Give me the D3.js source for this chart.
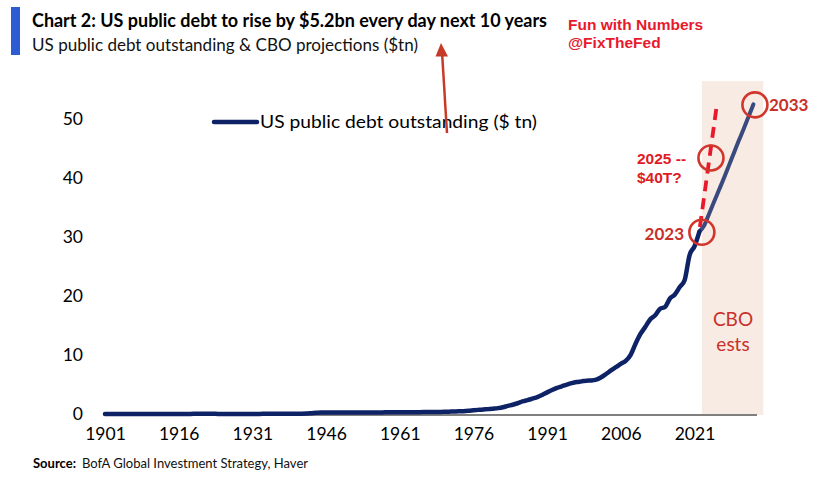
<!DOCTYPE html>
<html><head><meta charset="utf-8">
<script src="https://cdn.jsdelivr.net/npm/d3@7"></script>
<style>
html,body{margin:0;padding:0;background:#fff;}
svg{display:block;}
</style></head>
<body>
<svg id="c" width="815" height="483"></svg>
<script>
// ---- data ----
const firstYear = 1901;
const actualDebt = [ // $tn, 1901..2022
0.001,0.001,0.001,0.001,0.001,0.001,0.001,0.001,0.001,0.001,
0.001,0.001,0.001,0.001,0.001,0.001,0.003,0.012,0.025,0.024,
0.024,0.023,0.022,0.021,0.021,0.020,0.019,0.018,0.017,0.016,
0.017,0.019,0.023,0.027,0.029,0.034,0.036,0.037,0.040,0.043,
0.049,0.072,0.137,0.201,0.259,0.269,0.258,0.252,0.253,0.257,
0.255,0.259,0.266,0.271,0.274,0.273,0.271,0.276,0.285,0.286,
0.289,0.298,0.306,0.312,0.317,0.320,0.326,0.348,0.354,0.371,
0.398,0.427,0.458,0.475,0.533,0.620,0.699,0.772,0.827,0.908,
0.998,1.142,1.377,1.572,1.823,2.125,2.340,2.602,2.857,3.233,
3.665,4.065,4.412,4.693,4.974,5.225,5.413,5.526,5.656,5.674,
5.808,6.228,6.783,7.379,7.933,8.507,9.008,10.025,11.910,13.562,
14.790,16.066,16.738,17.824,18.151,19.573,20.245,21.516,22.719,26.945,
28.429,30.929];
const cboYears = [2022,2023,2024,2025,2026,2027,2028,2029,2030,2031,2032,2033];
const cboDebt  = [30.929,32.0,34.0,36.0,38.0,40.0,42.1,44.2,46.3,48.3,50.4,52.5];
const xTickYears = [1901,1916,1931,1946,1961,1976,1991,2006,2021];
const yTicks = [0,10,20,30,40,50];
const bandYears = [2022.5, 2035];
// annotation anchors (year, $tn)
const circles = [
  {label:"2023", year:2022.5, value:30.8},
  {label:"2025", year:2024.35, value:43.4},
  {label:"2033", year:2033.3, value:52.4}
];
const dashedTrend = [{year:2022.1, value:31.7},{year:2025.6, value:52.7}];

// ---- scales ----
const svg = d3.select("#c");
const x = d3.scaleLinear().domain([1901, 2021]).range([105, 694.5]);
const y = d3.scaleLinear().domain([0, 50]).range([414, 119]);

const actual = actualDebt.map((v,i)=>({year:firstYear+i, value:v}));
const proj = cboYears.map((yr,i)=>({year:yr, value:cboDebt[i]}));

// title block
svg.append("rect").attr("x",11).attr("y",7).attr("width",9).attr("height",48).attr("fill","#2c5bd3");
svg.append("text").attr("x",32).attr("y",27).attr("font-family","Lato, 'Open Sans', sans-serif")
  .attr("font-weight","bold").attr("font-size",19).attr("fill","#000")
  .attr("textLength",515).attr("lengthAdjust","spacingAndGlyphs")
  .text("Chart 2: US public debt to rise by $5.2bn every day next 10 years");
svg.append("text").attr("x",32).attr("y",51).attr("font-family","Lato, 'Open Sans', sans-serif")
  .attr("font-size",18).attr("fill","#111")
  .attr("textLength",386).attr("lengthAdjust","spacingAndGlyphs")
  .text("US public debt outstanding & CBO projections ($tn)");
svg.append("text").attr("x",568).attr("y",30).attr("font-family","'Liberation Sans', Arial, sans-serif")
  .attr("font-weight","bold").attr("font-size",15.5).attr("fill","#e8192c").text("Fun with Numbers");
svg.append("text").attr("x",568).attr("y",48).attr("font-family","'Liberation Sans', Arial, sans-serif")
  .attr("font-weight","bold").attr("font-size",15.5).attr("fill","#e8192c").text("@FixTheFed");

// shaded CBO band
svg.append("rect").attr("x",x(bandYears[0])).attr("y",81)
  .attr("width",x(bandYears[1])-x(bandYears[0])).attr("height",415-81).attr("fill","#f8ebe3");
svg.append("text").attr("x",733).attr("y",326).attr("text-anchor","middle")
  .attr("font-family","Lato, sans-serif").attr("font-size",19).attr("fill","#c8312b").text("CBO");
svg.append("text").attr("x",733).attr("y",351).attr("text-anchor","middle")
  .attr("font-family","Lato, sans-serif").attr("font-size",19).attr("fill","#c8312b").text("ests");

// axes
const xAxis = d3.axisBottom(x).tickValues(xTickYears).tickFormat(d3.format("d")).tickSize(0).tickPadding(13);
const gx = svg.append("g").attr("transform","translate(0,415)").call(xAxis);
gx.select(".domain").remove();
gx.selectAll("text").attr("font-family","Lato, sans-serif").attr("font-size",17.5).attr("fill","#000");
svg.append("line").attr("x1",x(1901)).attr("x2",757).attr("y1",415).attr("y2",415)
  .attr("stroke","#7f7f7f").attr("stroke-width",2);

const yAxis = d3.axisLeft(y).tickValues(yTicks).tickSize(0).tickPadding(0);
const gy = svg.append("g").attr("transform","translate(83,0)").call(yAxis);
gy.select(".domain").remove();
gy.selectAll("text").attr("font-family","Lato, sans-serif").attr("font-size",17.5).attr("fill","#000");

// lines
const line = d3.line().x(d=>x(d.year)).y(d=>y(d.value)).curve(d3.curveMonotoneX);
svg.append("path").datum(proj).attr("d",line).attr("fill","none")
  .attr("stroke","#3b4a7e").attr("stroke-width",4).attr("stroke-linecap","round");
svg.append("path").datum(actual).attr("d",line).attr("fill","none")
  .attr("stroke","#0e2366").attr("stroke-width",4.5).attr("stroke-linecap","round").attr("stroke-linejoin","round");

// legend
svg.append("line").attr("x1",214).attr("x2",257).attr("y1",122).attr("y2",122)
  .attr("stroke","#0e2366").attr("stroke-width",4.5).attr("stroke-linecap","round");
svg.append("text").attr("x",260).attr("y",128).attr("font-family","Lato, sans-serif")
  .attr("font-size",18).attr("fill","#000").attr("textLength",277).attr("lengthAdjust","spacingAndGlyphs")
  .text("US public debt outstanding ($ tn)");

// dashed trend
svg.append("line").attr("x1",x(dashedTrend[0].year)).attr("y1",y(dashedTrend[0].value))
  .attr("x2",x(dashedTrend[1].year)).attr("y2",y(dashedTrend[1].value))
  .attr("stroke","#e8192c").attr("stroke-width",3.8).attr("stroke-dasharray","11,7");

// circles
svg.selectAll("circle.ann").data(circles).enter().append("circle")
  .attr("cx",d=>x(d.year)).attr("cy",d=>y(d.value)).attr("r",12.5)
  .attr("fill","none").attr("stroke","#d2352b").attr("stroke-width",2.6);

svg.append("text").attr("x",769).attr("y",111).attr("font-family","Lato, sans-serif")
  .attr("font-size",17).attr("font-weight","bold").attr("fill","#c8312b").text("2033");
svg.append("text").attr("x",684).attr("y",240).attr("text-anchor","end").attr("font-family","Lato, sans-serif")
  .attr("font-size",17).attr("font-weight","bold").attr("fill","#c8312b").text("2023");
svg.append("text").attr("x",637).attr("y",164).attr("font-family","'Liberation Sans', Arial, sans-serif")
  .attr("font-size",15.5).attr("font-weight","bold").attr("fill","#e01b24").text("2025 --");
svg.append("text").attr("x",637).attr("y",183).attr("font-family","'Liberation Sans', Arial, sans-serif")
  .attr("font-size",15.5).attr("font-weight","bold").attr("fill","#e01b24").text("$40T?");

// arrow
svg.append("line").attr("x1",447).attr("y1",133).attr("x2",442.2).attr("y2",55)
  .attr("stroke","#c83a28").attr("stroke-width",2.5);
svg.append("path").attr("d","M441,43L448,56.5L435.5,56.5Z").attr("fill","#c83a28");

// source
svg.append("text").attr("x",33).attr("y",468).attr("font-family","Lato, sans-serif")
  .attr("font-size",13.5).attr("font-weight","bold").attr("fill","#000")
  .attr("textLength",43).attr("lengthAdjust","spacingAndGlyphs").text("Source:");
svg.append("text").attr("x",82).attr("y",468).attr("font-family","Lato, sans-serif")
  .attr("font-size",13.5).attr("fill","#111")
  .attr("textLength",226).attr("lengthAdjust","spacingAndGlyphs").text("BofA Global Investment Strategy, Haver");
</script>
</body></html>
